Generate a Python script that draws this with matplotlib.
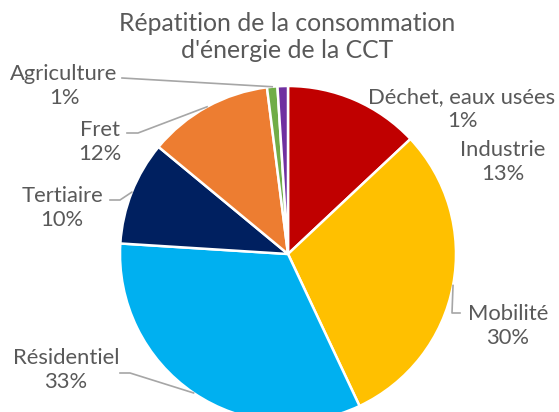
import matplotlib
matplotlib.use("Agg")
import matplotlib.pyplot as plt
import numpy as np

categories = ["Industrie", "Mobilité", "Résidentiel", "Tertiaire", "Fret", "Agriculture", "Déchet, eaux usées"]
values = [13, 30, 33, 10, 12, 1, 1]
colors = ["#C00000", "#FFC000", "#00B0F0", "#002060", "#ED7D31", "#70AD47", "#7030A0"]
title = "Répatition de la consommation\nd'énergie de la CCT"

W, H = 559, 412
CX, CY, R = 288, 254, 168

plt.rcParams['font.family'] = ['Lato', 'DejaVu Sans']
fig = plt.figure(figsize=(W / 100, H / 100), dpi=100)
ax = fig.add_axes([0, 0, 1, 1])

wedges, _ = ax.pie(values, colors=colors, startangle=90, counterclock=False,
                   radius=R, center=(0, 0),
                   wedgeprops=dict(edgecolor='white', linewidth=1.8))
ax.set_xlim(-CX, W - CX)
ax.set_ylim(-(H - CY), CY)
ax.set_aspect('equal')
ax.axis('off')


def P(px, py):
    return (px - CX, CY - py)


def edge_point(i):
    w = wedges[i]
    a = np.deg2rad((w.theta1 + w.theta2) / 2)
    return (R * np.cos(a), R * np.sin(a))

txtc = "#595959"
linec = "#A6A6A6"
fs = 15.8

ax.text(*P(287, 37), title, ha='center', va='center', fontsize=17.8, color=txtc,
        linespacing=1.2)

label_pos = {
    "Industrie": (503, 162),
    "Mobilité": (508, 326),
    "Résidentiel": (66, 370),
    "Tertiaire": (62, 208),
    "Fret": (100, 142),
    "Agriculture": (64, 86),
    "Déchet, eaux usées": (462, 109),
}
leaders = {
    "Mobilité": [(452, 313), (460, 313)],
    "Résidentiel": [(130, 373), (120, 373)],
    "Tertiaire": [(120, 200), (110, 200)],
    "Fret": [(138, 133), (127, 133)],
    "Agriculture": [(122, 78)],
}

for i, (cat, v) in enumerate(zip(categories, values)):
    x, y = label_pos[cat]
    ax.text(*P(x, y), f"{cat}\n{v}%", ha='center', va='center', fontsize=fs,
            color=txtc, linespacing=1.2)
    if cat in leaders:
        ex, ey = edge_point(i)
        pts = [(ex, ey)] + [P(*p) for p in leaders[cat]]
        xs, ys = zip(*pts)
        ax.plot(xs, ys, color=linec, lw=1.2, clip_on=False)

fig.savefig("out.png", dpi=100)
